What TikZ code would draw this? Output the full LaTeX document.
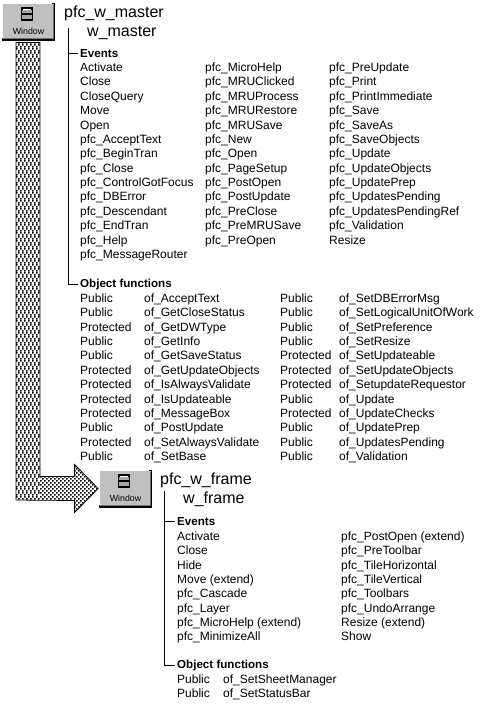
\documentclass[tikz,border=0pt]{standalone}
\usepackage{fontspec}
\setmainfont{Liberation Sans}
\usetikzlibrary{calc}
\catcode`\_=12
\tikzset{
  body/.style={anchor=base west,yshift=-4.5pt,inner sep=0pt,font=\fontsize{12}{12}\selectfont},
  bodybold/.style={body,font=\fontsize{11.6}{12}\selectfont\bfseries},
  title/.style={anchor=base west,yshift=-6pt,inner sep=0pt,font=\fontsize{16}{16}\selectfont},
  tree/.style={draw=black,line width=1pt},
  icon/.style={draw=black,line width=.8pt,fill=iconGray,minimum width=52pt,minimum height=37pt,inner sep=0pt},
  icontext/.style={inner sep=0pt,font=\fontsize{8.8}{9}\selectfont},
  fatarrow/.style={draw=black,line width=.8pt},
}
\definecolor{iconGray}{HTML}{C0C0C0}
\newcommand{\wicon}[2]{%
  \node[icon] (#1) at (#2) {};
  \draw[white,line width=1pt] ($(#1.south west)+(1,-2)$) -- ($(#1.north west)+(1,1)$) -- ($(#1.north east)+(-2,1)$);
  \draw[black,line width=2.2pt] ($(#1.south west)+(0,-.5)$) -- ($(#1.south east)+(0,-.5)$);
  \draw[black!55,line width=1pt] ($(#1.south west)+(2,-2)$) -- ($(#1.south east)+(-1,-2)$) -- ($(#1.north east)+(-1,2)$);
  \node[icontext] (#1t) at ($(#1.south)+(.5,-9)$) {Window};
  \node[draw=black,line width=1.6pt,fill=white,minimum width=10pt,minimum height=12pt,inner sep=0pt] (#1g) at ($(#1.north)+(-1,11.5)$) {};
  \fill[black!35] ($(#1g.north west)+(1,2.5)$) rectangle ($(#1g.east)+(-1,-.7)$);
  \fill[black!35] ($(#1g.south west)+(1,-2)$) rectangle ($(#1g.east)+(-1,.7)$);
  \draw[black,line width=1.4pt] (#1g.west) -- (#1g.east);
}
\newcommand{\arrowpath}{($(wa.south)+(-12,2)$) -- (bend) -- ($(wb.west)+(-24,12)$) -- ($(wb.west)+(-24,24)$) -- ($(wb.west)+(-.5,0)$)
  -- ($(wb.west)+(-24,-24)$) -- ($(wb.west)+(-24,-12)$) -- ($(wa.south)+(12,436)$) -- ($(wa.south)+(12,2)$) -- cycle}
\begin{document}
\begin{tikzpicture}[x=1pt,y=-1pt]
\useasboundingbox (0,0) rectangle (483,704);
\fill[white] (0,0) rectangle (483,704);
% icons
\wicon{wa}{28,21.5}
\wicon{wb}{125,488.5}
% fat arrow
\coordinate (bend) at (16,500);
\begin{scope}
\clip \arrowpath;
\fill[black]
  \foreach \r in {0,...,115}{
    \foreach \c in {0,...,5}{
      ({16+4*\c+2*mod(\r,2)},{40+4*\r}) rectangle ++(1.7,1.7)
      ({18+4*\c-2*mod(\r,2)},{42+4*\r}) rectangle ++(1.7,1.7)
    }
  }
  \foreach \r in {0,...,12}{
    \foreach \c in {0,...,15}{
      ({40+4*\c},{464+4*\r}) rectangle ++(1.7,1.7)
      ({42+4*\c},{466+4*\r}) rectangle ++(1.7,1.7)
    }
  };
\end{scope}
\draw[fatarrow] \arrowpath;
% master
\node[title] (mt) at (64,11) {pfc_w_master};
\node[title] (mn) at (87,30) {w_master};
\node[bodybold] (me) at (80,53) {Events};
\foreach \t [count=\i] in {Activate,Close,CloseQuery,Move,Open,pfc_AcceptText,pfc_BeginTran,pfc_Close,pfc_ControlGotFocus,pfc_DBError,pfc_Descendant,pfc_EndTran,pfc_Help,pfc_MessageRouter}
  \node[body] (ea\i) at (80,{67+14.38*(\i-1)}) {\t};
\foreach \t [count=\i] in {pfc_MicroHelp,pfc_MRUClicked,pfc_MRUProcess,pfc_MRURestore,pfc_MRUSave,pfc_New,pfc_Open,pfc_PageSetup,pfc_PostOpen,pfc_PostUpdate,pfc_PreClose,pfc_PreMRUSave,pfc_PreOpen}
  \node[body] (eb\i) at (205,{67+14.38*(\i-1)}) {\t};
\foreach \t [count=\i] in {pfc_PreUpdate,pfc_Print,pfc_PrintImmediate,pfc_Save,pfc_SaveAs,pfc_SaveObjects,pfc_Update,pfc_UpdateObjects,pfc_UpdatePrep,pfc_UpdatesPending,pfc_UpdatesPendingRef,pfc_Validation,Resize}
  \node[body] (ec\i) at (329,{67+14.38*(\i-1)}) {\t};
\node[bodybold] (mo) at (80,283) {Object functions};
\foreach \v/\t [count=\i] in {Public/of_AcceptText,Public/of_GetCloseStatus,Protected/of_GetDWType,Public/of_GetInfo,Public/of_GetSaveStatus,Protected/of_GetUpdateObjects,Protected/of_IsAlwaysValidate,Protected/of_IsUpdateable,Protected/of_MessageBox,Public/of_PostUpdate,Protected/of_SetAlwaysValidate,Public/of_SetBase}{
  \node[body] (fa\i) at (80,{298+14.36*(\i-1)}) {\v};
  \node[body] (fb\i) at (144,{298+14.36*(\i-1)}) {\t};
}
\foreach \v/\t [count=\i] in {Public/of_SetDBErrorMsg,Public/of_SetLogicalUnitOfWork,Public/of_SetPreference,Public/of_SetResize,Protected/of_SetUpdateable,Protected/of_SetUpdateObjects,Protected/of_SetupdateRequestor,Public/of_Update,Protected/of_UpdateChecks,Public/of_UpdatePrep,Public/of_UpdatesPending,Public/of_Validation}{
  \node[body] (fc\i) at (280,{298+14.36*(\i-1)}) {\v};
  \node[body] (fd\i) at (339,{298+14.36*(\i-1)}) {\t};
}
\coordinate (mtop) at (68,28);
\draw[tree] (mtop) -- (mtop |- mo) -- ($(mo.west)+(-2,0)$);
\draw[tree] (mtop |- me) -- ($(me.west)+(-2,0)$);
% frame
\node[title] (ft) at (160,478) {pfc_w_frame};
\node[title] (fn) at (183,497) {w_frame};
\node[bodybold] (fe) at (177,521) {Events};
\foreach \t [count=\i] in {Activate,Close,Hide,Move (extend),pfc_Cascade,pfc_Layer,pfc_MicroHelp (extend),pfc_MinimizeAll}
  \node[body] (ga\i) at (177,{536+14.3*(\i-1)}) {\t};
\foreach \t [count=\i] in {pfc_PostOpen (extend),pfc_PreToolbar,pfc_TileHorizontal,pfc_TileVertical,pfc_Toolbars,pfc_UndoArrange,Resize (extend),Show}
  \node[body] (gb\i) at (341,{536+14.3*(\i-1)}) {\t};
\node[bodybold] (fo) at (177,664) {Object functions};
\foreach \v/\t [count=\i] in {Public/of_SetSheetManager,Public/of_SetStatusBar}{
  \node[body] (ha\i) at (177,{679+14.3*(\i-1)}) {\v};
  \node[body] (hb\i) at (223,{679+14.3*(\i-1)}) {\t};
}
\coordinate (ftop) at (164,491);
\draw[tree] (ftop) -- (ftop |- fo) -- ($(fo.west)+(-2,0)$);
\draw[tree] (ftop |- fe) -- ($(fe.west)+(-2,0)$);
\end{tikzpicture}
\end{document}
